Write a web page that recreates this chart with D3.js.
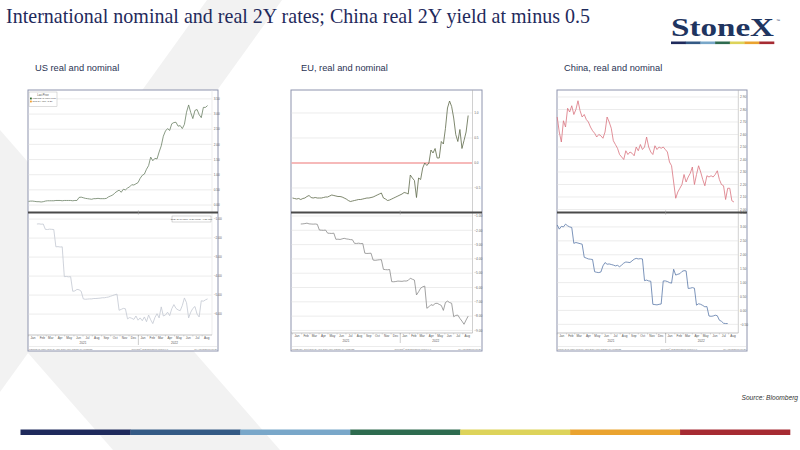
<!DOCTYPE html>
<html><head><meta charset="utf-8">
<script src="https://cdnjs.cloudflare.com/ajax/libs/d3/7.8.5/d3.min.js"></script>
<style>html,body{margin:0;padding:0;background:#fff}svg{display:block}</style>
</head><body>
<svg id="c" width="800" height="450"></svg>
<script>
// ---------- DATA (weekly observations starting 1 Jan 2021) ----------
const weekStart = new Date(2021, 0, 1);
const months = ["Jan","Feb","Mar","Apr","May","Jun","Jul","Aug","Sep","Oct","Nov","Dec","Jan","Feb","Mar","Apr","May","Jun","Jul","Aug"];
const years = ["2021","2022"];

const usNominal = [0.12,0.13,0.13,0.12,0.11,0.11,0.10,0.11,0.13,0.14,0.14,0.14,0.14,0.15,0.15,0.15,0.14,0.15,0.15,0.15,0.15,0.14,
  0.15,0.15,0.25,0.26,0.24,0.22,0.21,0.20,0.19,0.21,0.21,0.22,0.21,0.21,0.21,0.22,0.27,0.30,0.33,0.40,0.45,0.49,0.42,0.52,0.50,0.56,
  0.60,0.67,0.66,0.70,0.74,0.88,0.98,1.02,1.18,1.30,1.58,1.46,1.54,1.52,1.75,1.95,2.27,2.44,2.52,2.46,2.68,2.72,2.73,2.60,2.62,2.52,
  2.66,3.06,3.30,3.05,2.85,3.12,3.15,2.98,2.88,3.22,3.22,3.28];
const usReal = [null,null,null,null,-1.26,-1.25,-1.27,-1.26,-1.54,-1.55,-1.53,-1.54,-1.55,-2.46,-2.45,-2.47,-2.46,
  -4.03,-4.02,-4.04,-4.03,-4.80,-4.78,-4.70,-4.72,-4.80,
  -5.20,-5.22,-5.21,-5.20,-5.20,-5.18,-5.18,-5.17,-5.16,-5.14,-5.14,-5.12,-5.10,-5.06,-5.02,-4.98,-4.95,
  -5.80,-5.75,-5.70,-5.72,-6.25,-6.18,-6.22,-6.28,-6.10,-6.32,
  -6.20,-6.35,-6.15,-6.40,-6.05,-6.30,-6.50,-6.18,-5.98,-6.20,
  -5.62,-6.10,-6.05,-5.90,-6.08,-5.72,-5.50,-5.70,-5.78,-5.82,-5.55,-5.15,-5.40,-6.20,-5.90,-5.70,-5.60,-6.00,-6.15,-5.30,-5.32,-5.25,-5.20];
const euNominal = [-0.70,-0.71,-0.72,-0.71,-0.73,-0.71,-0.70,-0.67,-0.65,-0.69,-0.70,
  -0.69,-0.70,-0.70,-0.70,-0.69,-0.68,-0.68,-0.66,-0.64,-0.65,
  -0.66,-0.67,-0.67,-0.68,-0.70,-0.72,-0.75,-0.77,-0.76,-0.75,
  -0.74,-0.73,-0.73,-0.72,-0.71,-0.70,-0.70,-0.69,-0.68,-0.66,
  -0.64,-0.62,-0.60,-0.70,-0.72,-0.75,-0.74,-0.72,-0.70,-0.68,
  -0.66,-0.64,-0.62,-0.59,-0.60,-0.62,-0.24,-0.30,-0.35,-0.69,
  -0.30,-0.33,-0.10,0.00,-0.05,0.00,0.26,0.20,0.29,0.10,
  0.10,0.43,0.38,0.69,1.10,1.24,1.13,0.90,0.57,0.43,
  0.67,0.29,0.45,0.62,0.95];
const euReal = [null,null,null,null,-1.56,-1.55,-1.53,-1.50,-1.55,-1.56,-1.57,-1.56,-1.58,
  -1.98,-1.99,-2.00,-1.98,-2.20,-2.21,-2.22,-2.20,
  -2.63,-2.62,-2.64,-2.60,-2.56,-2.60,-2.62,-2.65,-2.66,
  -2.91,-2.92,-2.90,-2.93,-2.92,-3.60,-3.62,-3.61,-3.60,
  -4.08,-4.10,-4.08,-4.06,-4.05,-4.73,-4.75,-4.76,-4.74,
  -5.59,-5.60,-5.58,-5.55,-5.56,-5.57,-5.54,-5.55,-5.50,-5.35,
  -5.42,-5.48,-6.52,-6.30,-6.05,-5.95,-5.90,
  -7.45,-7.35,-7.20,-7.25,-7.12,-7.10,-7.18,-7.25,-7.60,-7.05,-6.95,
  -7.05,-7.10,-8.04,-7.95,-7.93,-8.16,-8.35,-8.57,-8.27,-8.00];
const cnNominal = [2.74,2.62,2.54,2.71,2.66,2.81,2.78,2.83,2.76,2.80,
  2.87,2.79,2.74,2.76,2.72,2.70,2.66,2.63,2.61,2.58,2.60,
  2.59,2.57,2.62,2.74,2.70,2.65,2.55,2.52,2.49,
  2.44,2.42,2.40,2.47,2.44,2.46,2.45,2.43,2.50,2.47,2.52,2.48,2.50,
  2.58,2.50,2.46,2.44,2.51,2.48,2.50,2.49,2.50,2.48,2.46,2.38,
  2.35,2.22,2.09,2.14,2.17,2.20,2.28,2.22,2.26,2.29,
  2.34,2.20,2.28,2.35,2.30,2.24,2.19,2.27,2.26,2.27,
  2.26,2.28,2.31,2.24,2.20,2.19,2.08,2.17,2.17,2.07,2.06];
const cnReal = [3.07,2.92,3.02,3.00,3.10,3.04,3.00,2.98,2.41,2.44,2.42,2.40,2.38,
  1.91,1.88,1.85,1.84,1.83,1.39,1.37,1.36,1.38,
  1.60,1.72,1.66,1.67,1.65,1.63,1.60,1.62,
  1.57,1.63,1.70,1.74,1.73,1.72,1.78,1.84,1.87,1.85,1.86,1.85,
  1.07,1.09,1.06,1.05,0.22,0.21,0.20,0.22,0.23,
  1.06,1.06,1.04,1.00,0.98,1.48,1.27,1.30,1.32,1.40,1.43,1.42,
  0.79,0.80,0.82,0.80,0.19,0.24,0.22,0.18,0.13,0.14,
  -0.20,-0.21,-0.20,-0.17,-0.19,-0.35,-0.39,-0.46,-0.47,-0.47,null,null,null];

const usTopTicks = [0,0.5,1,1.5,2,2.5,3,3.5];
const usBotTicks = [-6,-5,-4,-3,-2,-1];
const euTopTicks = [-0.5,0,0.5,1];
const euBotTicks = [-9,-8,-7,-6,-5,-4,-3,-2,-1];
const cnTopTicks = [2.0,2.1,2.2,2.3,2.4,2.5,2.6,2.7,2.8,2.9];
const cnBotTicks = [-0.5,0,0.5,1,1.5,2,2.5,3,3.5];
const usTopDomain = [-0.23, 3.76], usBotDomain = [-7.1, -0.68];
const euTopDomain = [-0.98, 1.44], euBotDomain = [-9.18, -0.79];
const cnTopDomain = [1.98, 2.948], cnBotDomain = [-0.81, 3.50];
const timeDomain = [new Date(2021,0,1), new Date(2022,8,1)];
const barColors = ["#1f2a5c","#345a85","#79a7c9","#2e6b4f","#ddd35a","#eaa32f","#a62b32"];

// ---------- DRAW ----------
const svg = d3.select("#c");
const weeks = d3.range(usNominal.length).map(i => d3.timeDay.offset(weekStart, 7 * i));

// background diagonal bands
svg.append("polygon").attr("points","0,130 280,450 113,450 0,321").attr("fill","#f2f2f2");
svg.append("polygon").attr("points","207,0 282,0 0,392 0,288").attr("fill","#f2f2f2");

// title
svg.append("text").attr("x",6).attr("y",23).attr("font-family","Liberation Serif, Times New Roman, serif")
  .attr("font-size",21).attr("fill","#1f2a5c").attr("textLength",584).attr("lengthAdjust","spacingAndGlyphs")
  .text("International nominal and real 2Y rates; China real 2Y yield at minus 0.5");

// logo
svg.append("text").attr("x",671).attr("y",36).attr("font-family","Liberation Serif, Times New Roman, serif")
  .attr("font-weight","bold").attr("font-size",25).attr("fill","#1f3560")
  .attr("textLength",103).attr("lengthAdjust","spacingAndGlyphs").text("StoneX");
svg.append("text").attr("x",776).attr("y",22).attr("font-family","Liberation Sans, Arial, sans-serif")
  .attr("font-size",4).attr("fill","#1f3560").text("™");
const logoX = d3.scaleBand().domain(d3.range(barColors.length)).range([671, 774]);
svg.append("g").selectAll("rect").data(barColors).join("rect")
  .attr("x",(d,i)=>logoX(i)).attr("y",41.5).attr("width",logoX.bandwidth()+0.3).attr("height",2.6).attr("fill",d=>d);

// bottom colour bar
const barX = d3.scaleBand().domain(d3.range(barColors.length)).range([20.5, 790]);
svg.append("g").selectAll("rect").data(barColors).join("rect")
  .attr("x",(d,i)=>barX(i)).attr("y",429.5).attr("width",barX.bandwidth()+0.3).attr("height",5.5).attr("fill",d=>d);

// source
svg.append("text").attr("x",798).attr("y",400).attr("text-anchor","end")
  .attr("font-family","Liberation Sans, Arial, sans-serif").attr("font-style","italic")
  .attr("font-size",6.6).attr("fill","#333").text("Source: Bloomberg");

const sans = "Liberation Sans, Arial, sans-serif";

function drawPanel(p) {
  const g = svg.append("g");
  svg.append("text").attr("x",p.subX).attr("y",71).attr("font-family",sans).attr("font-size",9.3)
    .attr("fill","#2a3353").text(p.subtitle);
  g.append("rect").attr("x",p.x0).attr("y",p.y0).attr("width",p.x1-p.x0).attr("height",p.y1-p.y0)
    .attr("fill","#fff").attr("stroke","#8e94ae").attr("stroke-width",1);
  const x = d3.scaleTime().domain(timeDomain).range([p.px0, p.px1]);
  const yT = d3.scaleLinear().domain(p.topDomain).range([p.div, p.y0 + 1]);
  const yB = d3.scaleLinear().domain(p.botDomain).range([p.axisY, p.div + 1]);

  // grid + labels top
  g.selectAll(".gt").data(p.topTicks).join("line")
    .attr("x1",p.x0+0.5).attr("x2",p.px1).attr("y1",d=>yT(d)).attr("y2",d=>yT(d))
    .attr("stroke",d=>(p.redZero && d===0) ? "#f3a2a2" : "#e4e4e4")
    .attr("stroke-width",d=>(p.redZero && d===0) ? 1.6 : 0.7);
  g.selectAll(".lt").data(p.topTicks).join("text")
    .attr("x",p.px1+2.2).attr("y",d=>yT(d)+1.2).attr("font-family",sans).attr("font-size",3.2)
    .attr("fill","#666").text(d=>p.topFmt(d));
  g.selectAll(".gb").data(p.botTicks.filter(d=>yB(d) < p.axisY-1 && yB(d) > p.div+2)).join("line")
    .attr("x1",p.x0+0.5).attr("x2",p.px1).attr("y1",d=>yB(d)).attr("y2",d=>yB(d))
    .attr("stroke","#e4e4e4").attr("stroke-width",0.7);
  g.selectAll(".lb").data(p.botTicks).join("text")
    .attr("x",p.px1+2.2).attr("y",d=>yB(d)+1.2).attr("font-family",sans).attr("font-size",3.2)
    .attr("fill","#666").text(d=>p.botFmt(d));

  // right axis line
  g.append("line").attr("x1",p.px1+0.5).attr("x2",p.px1+0.5).attr("y1",p.y0).attr("y2",p.axisY)
    .attr("stroke",p.axisColor).attr("stroke-width",0.6);

  // series
  const lineT = d3.line().defined(d=>d[1]!=null).x(d=>x(d[0])).y(d=>yT(d[1]));
  const lineB = d3.line().defined(d=>d[1]!=null).x(d=>x(d[0])).y(d=>yB(d[1]));
  g.append("path").attr("d",lineT(weeks.map((w,i)=>[w,p.top[i]]))).attr("fill","none")
    .attr("stroke",p.topColor).attr("stroke-width",0.8).attr("stroke-linejoin","round");
  g.append("path").attr("d",lineB(weeks.map((w,i)=>[w,p.bot[i]]))).attr("fill","none")
    .attr("stroke",p.botColor).attr("stroke-width",0.8).attr("stroke-linejoin","round");

  // divider
  g.append("line").attr("x1",p.x0).attr("x2",p.x1).attr("y1",p.div+0.5).attr("y2",p.div+0.5)
    .attr("stroke","#4a4a4a").attr("stroke-width",1.8);
  const yearBreak = x(new Date(2022,0,1));
  g.append("line").attr("x1",yearBreak).attr("x2",yearBreak).attr("y1",p.div-1.5).attr("y2",p.div+2.5)
    .attr("stroke","#999").attr("stroke-width",0.6);

  // x axis
  g.append("line").attr("x1",p.x0).attr("x2",p.px1+0.5).attr("y1",p.axisY).attr("y2",p.axisY)
    .attr("stroke","#9a9a9a").attr("stroke-width",0.6);
  const monthStarts = months.map((m,i)=>d3.timeMonth.offset(timeDomain[0], i));
  g.selectAll(".mt").data(monthStarts).join("line")
    .attr("x1",d=>x(d)).attr("x2",d=>x(d)).attr("y1",p.axisY).attr("y2",p.axisY+1.5)
    .attr("stroke","#aaa").attr("stroke-width",0.4);
  g.selectAll(".ml").data(months).join("text")
    .attr("x",(d,i)=>x(d3.timeDay.offset(monthStarts[i],15))).attr("y",p.axisY+4.3)
    .attr("text-anchor","middle").attr("font-family",sans).attr("font-size",3.1).attr("fill","#555").text(d=>d);
  g.append("line").attr("x1",yearBreak).attr("x2",yearBreak).attr("y1",p.axisY).attr("y2",p.axisY+10)
    .attr("stroke","#999").attr("stroke-width",0.5);
  const yearMid = [new Date(2021,6,1), new Date(2022,4,1)];
  g.selectAll(".yl").data(years).join("text")
    .attr("x",(d,i)=>x(yearMid[i])).attr("y",p.axisY+8.8).attr("text-anchor","middle")
    .attr("font-family",sans).attr("font-size",3.1).attr("fill","#555").text(d=>d);

  // footer
  g.append("line").attr("x1",p.x0).attr("x2",p.x1).attr("y1",p.y1-4.5).attr("y2",p.y1-4.5)
    .attr("stroke","#d0d0d0").attr("stroke-width",0.4);
  g.append("text").attr("x",p.x0+1).attr("y",p.y1-1.4).attr("font-family",sans).attr("font-size",2.3)
    .attr("fill","#777").text(p.footer);
  g.append("text").attr("x",p.x0+122).attr("y",p.y1-1.4).attr("text-anchor","middle")
    .attr("font-family",sans).attr("font-size",2.0).attr("fill","#777").text("Copyright© 2022 Bloomberg Finance L.P.");
  g.append("text").attr("x",p.x1-1).attr("y",p.y1-1.4).attr("text-anchor","end")
    .attr("font-family",sans).attr("font-size",2.3).attr("fill","#777").text("19-Aug-2022 10:16:26");
  return g;
}

const f2 = d3.format(".2f"), f1 = d3.format(".1f");
const us = drawPanel({subtitle:"US real and nominal", subX:35, x0:28, x1:218, y0:90, y1:351, px0:28.5, px1:211.5,
  div:212, axisY:335, top:usNominal, bot:usReal, topDomain:usTopDomain, botDomain:usBotDomain,
  topTicks:usTopTicks, botTicks:usBotTicks, topFmt:f2, botFmt:f2, topColor:"#6b8064", botColor:"#c3c8d2",
  axisColor:"#e0e0e0", redZero:false, footer:"USGG2YR Index  Real 2Y (R1)  Daily 01JAN2021-19AUG2022"});
const eu = drawPanel({subtitle:"EU, real and nominal", subX:301, x0:291, x1:482, y0:90, y1:351, px0:292.5, px1:472,
  div:212, axisY:333, top:euNominal, bot:euReal, topDomain:euTopDomain, botDomain:euBotDomain,
  topTicks:euTopTicks, botTicks:euBotTicks, topFmt:f1, botFmt:f2, topColor:"#5e6a4a", botColor:"#8a8a8a",
  axisColor:"#b0b0b0", redZero:true, footer:"GTDEM2Y Govt  Real 2Y (R1)  Daily 01JAN2021-19AUG2022"});
const cn = drawPanel({subtitle:"China, real and nominal", subX:564, x0:557, x1:747, y0:90, y1:351, px0:557.2, px1:737.8,
  div:212, axisY:333, top:cnNominal, bot:cnReal, topDomain:cnTopDomain, botDomain:cnBotDomain,
  topTicks:cnTopTicks, botTicks:cnBotTicks, topFmt:f2, botFmt:f2, topColor:"#d9737f", botColor:"#5b78a8",
  axisColor:"#b0b0b0", redZero:false, footer:"GCNY2YR Index  Real 2Y (R1)  Daily 01JAN2021-19AUG2022"});

// US legends
const lg = svg.append("g").attr("font-family",sans).attr("fill","#444");
lg.append("rect").attr("x",29).attr("y",92).attr("width",28).attr("height",14.5).attr("fill","#fff").attr("stroke","#aaa").attr("stroke-width",0.4);
lg.append("text").attr("x",43).attr("y",96).attr("text-anchor","middle").attr("font-size",2.6).text("Last Price");
lg.append("rect").attr("x",30).attr("y",97.6).attr("width",1.8).attr("height",1.8).attr("fill","#2e6b2e");
lg.append("text").attr("x",32.5).attr("y",99.4).attr("font-size",2.4).text("USGG2YR Index   3.26");
lg.append("rect").attr("x",30).attr("y",100.6).attr("width",1.8).attr("height",1.8).attr("fill","#f0a030");
lg.append("text").attr("x",32.5).attr("y",102.4).attr("font-size",2.4).text("Real 2Y (R1)   -5.20");
lg.append("rect").attr("x",172).attr("y",216).attr("width",39).attr("height",6).attr("fill","#fff").attr("stroke","#999").attr("stroke-width",0.4);
lg.append("text").attr("x",191.5).attr("y",220).attr("text-anchor","middle").attr("font-size",2.4).text("TUSA2YR Index -5.20 Mean -4.55 (R1)");
</script>
</body></html>
